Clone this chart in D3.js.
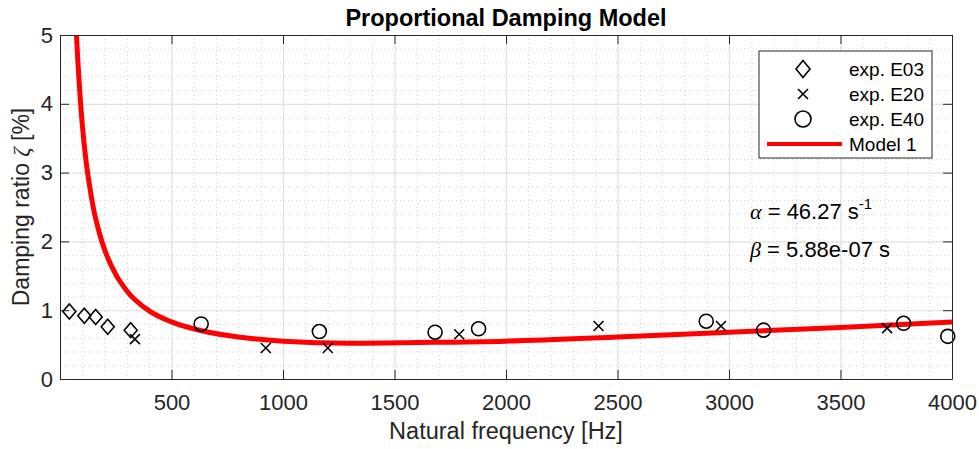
<!DOCTYPE html>
<html lang="en">
<head>
<meta charset="UTF-8">
<title>Proportional Damping Model</title>
<script src="https://cdnjs.cloudflare.com/ajax/libs/d3/7.8.5/d3.min.js"></script>
<style>
    body { margin: 0; background: #fff; }
    svg { display: block; font-family: "Liberation Sans", Arial, sans-serif; }
</style>
</head>
<body>
<div id="chart"></div>
<script>
// measured points, frequency in Hz, damping ratio in %
const e03Freq = [42, 109, 160, 214, 317];
const e03Zeta = [0.98, 0.92, 0.90, 0.76, 0.71];
const e20Freq = [336, 923, 1201, 1790, 2415, 2964, 3709];
const e20Zeta = [0.58, 0.45, 0.45, 0.65, 0.77, 0.77, 0.74];
const e40Freq = [633, 1163, 1682, 1877, 2898, 3155, 3783, 3981];
const e40Zeta = [0.80, 0.69, 0.68, 0.73, 0.84, 0.71, 0.81, 0.62];

// model 1 curve
const modelFreq = [70, 74, 80, 90, 100, 115, 130, 150, 175, 200, 250, 300, 400, 500, 650, 800, 1000, 1300, 1600, 2000, 2500, 3000, 3500, 4000];
const modelZeta = [5.27, 4.99, 4.62, 4.11, 3.70, 3.22, 2.86, 2.48, 2.14, 1.88, 1.52, 1.28, 0.99, 0.83, 0.69, 0.61, 0.55, 0.52, 0.53, 0.55, 0.61, 0.68, 0.75, 0.83];

const xTicks = [500, 1000, 1500, 2000, 2500, 3000, 3500, 4000];
const yTicks = [0, 1, 2, 3, 4, 5];
const legendLabels = ["exp. E03", "exp. E20", "exp. E40", "Model 1"];

const W = 979, H = 449;
const margin = {top: 35, right: 27, bottom: 70, left: 60};
const iw = W - margin.left - margin.right;
const ih = H - margin.top - margin.bottom;
const axisColor = "#262626";

const svg = d3.select("#chart").append("svg")
    .attr("width", W).attr("height", H);

const x = d3.scaleLinear().domain([0, 4000]).range([0, iw]);
const y = d3.scaleLinear().domain([0, 5]).range([ih, 0]);

svg.append("defs").append("clipPath").attr("id", "clip")
    .append("rect").attr("width", iw).attr("height", ih);

const g = svg.append("g").attr("transform", `translate(${margin.left},${margin.top})`);

// minor grid (dotted)
g.append("g")
    .call(d3.axisBottom(x).tickValues(d3.range(100, 4000, 100)).tickSize(ih).tickFormat(""))
    .call(a => a.select(".domain").remove())
    .selectAll("line").attr("stroke", "#b0b0b0").attr("stroke-dasharray", "1,3").attr("opacity", 0.6);
g.append("g")
    .call(d3.axisLeft(y).tickValues(d3.range(0.2, 5, 0.2)).tickSize(-iw).tickFormat(""))
    .call(a => a.select(".domain").remove())
    .selectAll("line").attr("stroke", "#b0b0b0").attr("stroke-dasharray", "1,3").attr("opacity", 0.6);

// major grid
g.append("g")
    .call(d3.axisBottom(x).tickValues(xTicks).tickSize(ih).tickFormat(""))
    .call(a => a.select(".domain").remove())
    .selectAll("line").attr("stroke", "#dedede");
g.append("g")
    .call(d3.axisLeft(y).tickValues(yTicks).tickSize(-iw).tickFormat(""))
    .call(a => a.select(".domain").remove())
    .selectAll("line").attr("stroke", "#dedede");

// model curve
const line = d3.line()
    .x((d, i) => x(modelFreq[i]))
    .y(d => y(d))
    .curve(d3.curveMonotoneX);
g.append("path")
    .datum(modelZeta)
    .attr("clip-path", "url(#clip)")
    .attr("fill", "none")
    .attr("stroke", "#ff0000")
    .attr("stroke-width", 5)
    .attr("d", line);

// markers
const diamond = (s, cx, cy, w, h) => s.append("path")
    .attr("d", `M${cx},${cy - h / 2}L${cx + w / 2},${cy}L${cx},${cy + h / 2}L${cx - w / 2},${cy}Z`)
    .attr("fill", "none").attr("stroke", "#000").attr("stroke-width", 1.6);
const cross = (s, cx, cy, r) => s.append("path")
    .attr("d", `M${cx - r},${cy - r}L${cx + r},${cy + r}M${cx - r},${cy + r}L${cx + r},${cy - r}`)
    .attr("fill", "none").attr("stroke", "#000").attr("stroke-width", 1.6);
const ring = (s, cx, cy, r) => s.append("circle")
    .attr("cx", cx).attr("cy", cy).attr("r", r)
    .attr("fill", "none").attr("stroke", "#000").attr("stroke-width", 1.6);

e03Freq.forEach((f, i) => diamond(g, x(f), y(e03Zeta[i]), 13, 15));
e20Freq.forEach((f, i) => cross(g, x(f), y(e20Zeta[i]), 5));
e40Freq.forEach((f, i) => ring(g, x(f), y(e40Zeta[i]), 7));

// axes box with inward ticks on all four sides
const tl = 9;
const fmt = d3.format("d");
const styleAxis = a => {
    a.select(".domain").attr("stroke", axisColor);
    a.selectAll(".tick line").attr("stroke", axisColor);
    a.selectAll(".tick text").attr("fill", axisColor).attr("font-size", 22)
        .attr("font-family", "'Liberation Sans', Arial, sans-serif");
};
g.append("g").attr("transform", `translate(0,${ih})`)
    .call(d3.axisBottom(x).tickValues(xTicks).tickFormat(fmt).tickSizeInner(-tl).tickSizeOuter(0).tickPadding(15))
    .call(styleAxis);
g.append("g")
    .call(d3.axisTop(x).tickValues(xTicks).tickSizeInner(-tl).tickSizeOuter(0).tickFormat(""))
    .call(styleAxis);
g.append("g")
    .call(d3.axisLeft(y).tickValues(yTicks).tickFormat(fmt).tickSizeInner(-tl).tickSizeOuter(0).tickPadding(7))
    .call(styleAxis);
g.append("g").attr("transform", `translate(${iw},0)`)
    .call(d3.axisRight(y).tickValues(yTicks).tickSizeInner(-tl).tickSizeOuter(0).tickFormat(""))
    .call(styleAxis);

// title and axis labels
svg.append("text")
    .attr("x", margin.left + iw / 2).attr("y", 26)
    .attr("text-anchor", "middle")
    .attr("font-size", 23.5).attr("font-weight", "bold").attr("fill", "#000")
    .text("Proportional Damping Model");

svg.append("text")
    .attr("x", margin.left + iw / 2).attr("y", 439)
    .attr("text-anchor", "middle")
    .attr("font-size", 23.5).attr("fill", axisColor)
    .text("Natural frequency [Hz]");

const yl = svg.append("text")
    .attr("transform", `translate(29,${margin.top + ih / 2}) rotate(-90)`)
    .attr("text-anchor", "middle")
    .attr("font-size", 23).attr("fill", axisColor);
yl.append("tspan").text("Damping ratio ");
yl.append("tspan").attr("font-family", "'Liberation Serif', 'DejaVu Serif', serif").attr("font-style", "italic").text("ζ");
yl.append("tspan").text(" [%]");

// parameter annotation
const ann = svg.append("g").attr("fill", "#000").attr("font-size", 22);
const a1 = ann.append("text").attr("x", 750).attr("y", 219);
a1.append("tspan").attr("font-family", "'Liberation Serif', serif").attr("font-style", "italic").text("α");
a1.append("tspan").text(" = 46.27 s");
a1.append("tspan").attr("dy", -10).attr("font-size", 15).text("-1");
const a2 = ann.append("text").attr("x", 750).attr("y", 257);
a2.append("tspan").attr("font-family", "'Liberation Serif', serif").attr("font-style", "italic").text("β");
a2.append("tspan").text(" = 5.88e-07 s");

// legend
const lg = svg.append("g");
lg.append("rect")
    .attr("x", 759).attr("y", 51).attr("width", 173).attr("height", 107)
    .attr("fill", "#fff").attr("stroke", axisColor).attr("stroke-width", 1);
const rowY = [69, 94, 119, 144];
diamond(lg, 803, rowY[0], 14, 17);
cross(lg, 803, rowY[1], 5);
ring(lg, 803, rowY[2], 8);
lg.append("line").attr("x1", 767).attr("x2", 842).attr("y1", rowY[3]).attr("y2", rowY[3])
    .attr("stroke", "#ff0000").attr("stroke-width", 4);
legendLabels.forEach((t, i) => {
    lg.append("text").attr("x", 849).attr("y", rowY[i] + 6.5)
        .attr("font-size", 19).attr("fill", "#000").text(t);
});
</script>
</body>
</html>
